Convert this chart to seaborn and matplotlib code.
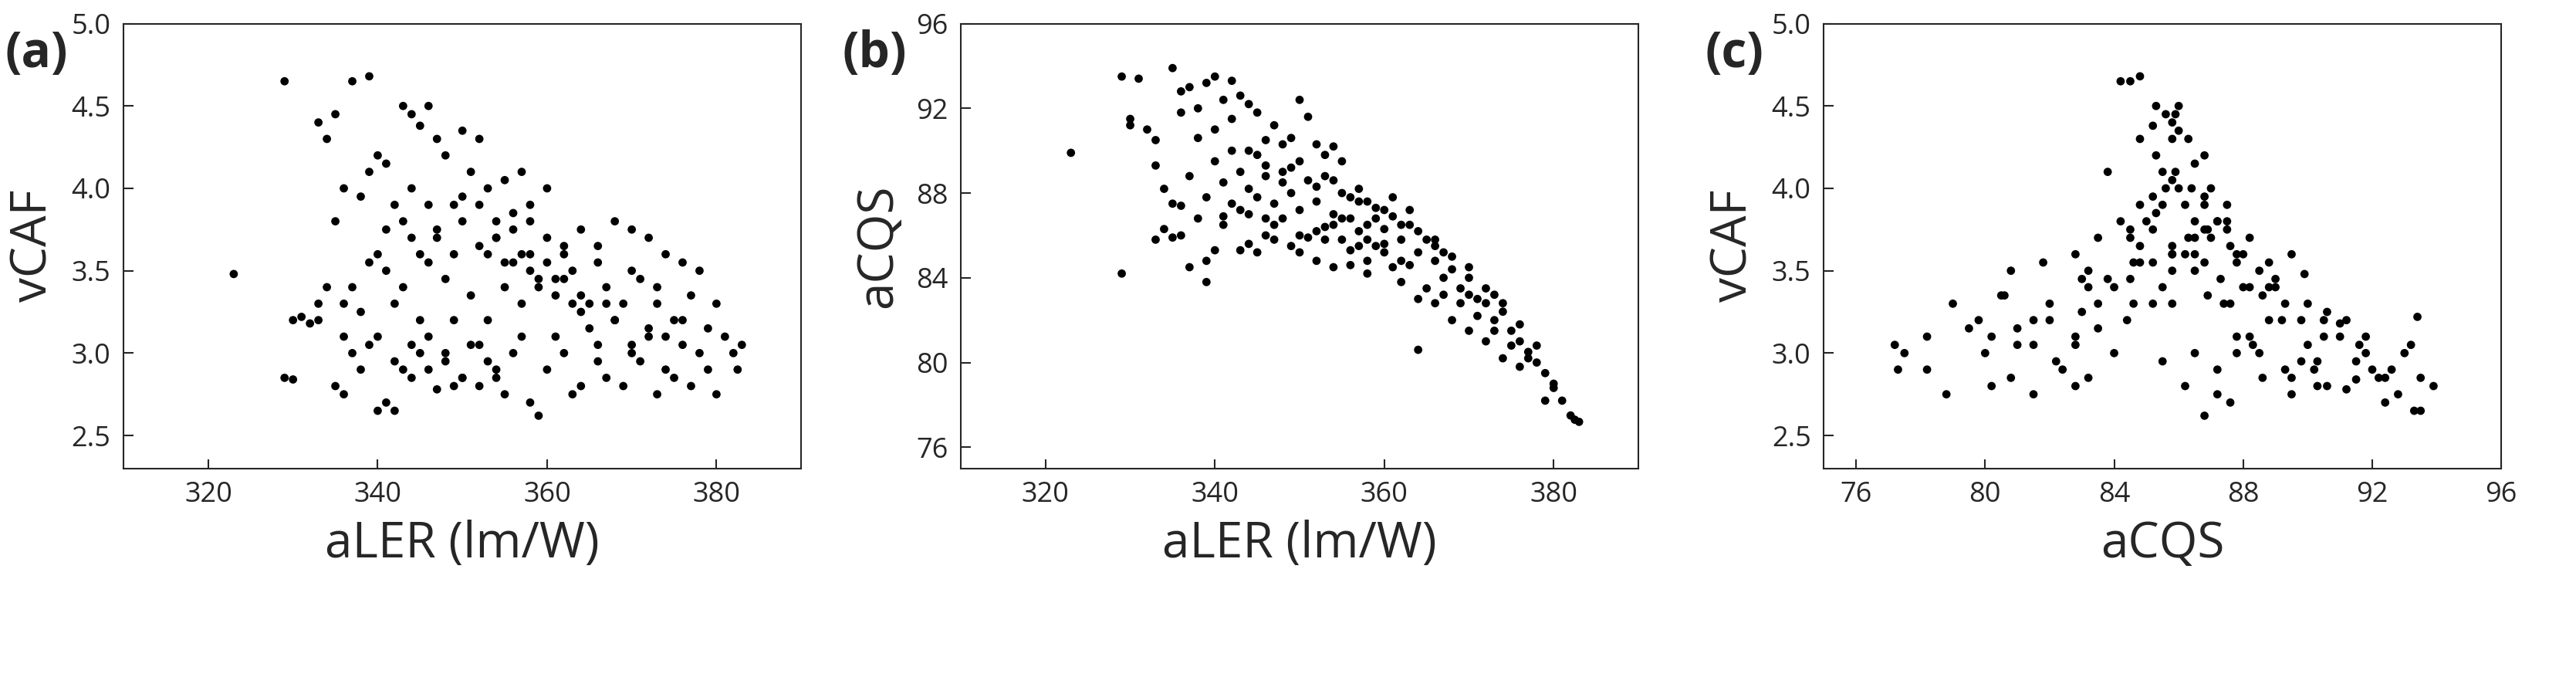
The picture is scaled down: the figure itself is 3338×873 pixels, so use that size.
import pandas as pd
import matplotlib.pyplot as plt
import seaborn as sns

# Per-sample values (same samples in every panel)
aler = [329, 330, 331, 332, 333, 330, 335, 336, 337, 338, 339, 340, 341, 342, 343, 336, 338, 340, 342, 344,
        345, 346, 347, 348, 350, 351, 352, 354, 355, 349, 333, 334, 336,
        323, 329, 333, 334, 335, 337, 339, 340, 341, 343, 344, 345, 346, 347, 344, 342, 338, 336, 335, 339,
        348, 350, 351, 353, 355, 352, 357, 360, 358, 349,
        340, 341, 342, 343, 344, 345, 346, 347, 348, 349, 350, 351, 352, 353, 354, 355, 356, 357, 358, 359,
        360, 361, 362, 363, 364, 365, 352, 354, 356, 358, 360, 362, 355, 357, 359, 361, 363, 353, 347, 345,
        343, 341, 339, 337, 346, 350, 354, 358, 362, 356,
        344, 346, 348, 350, 352, 354, 356, 358, 359, 360, 362, 364, 366, 357, 353, 349, 361, 363,
        366, 367, 368, 369, 370, 371, 372, 373, 374, 375, 376, 377, 378, 379, 380, 381, 382, 383, 382.5, 380,
        378, 376, 374, 372, 370, 368, 366, 367, 369, 371, 373, 375, 377, 379, 365, 364, 366, 368, 370, 372,
        374, 376, 364, 370, 373, 367]
acqs = [93.5, 91.2, 93.4, 91.0, 90.5, 91.5, 93.9, 92.8, 93.0, 92.0, 93.2, 93.5, 92.4, 93.3, 92.6, 91.8, 90.6, 91.0, 91.5, 92.2,
        91.8, 90.5, 91.2, 90.3, 92.4, 91.6, 90.3, 90.2, 89.5, 89.2, 89.3, 88.2, 87.4,
        89.9, 84.2, 85.8, 86.3, 85.9, 84.5, 84.8, 85.3, 86.5, 85.3, 85.6, 85.2, 86.0, 85.8, 87.0, 87.5, 86.8, 86.0, 87.5, 83.8,
        86.8, 86.0, 85.9, 86.4, 85.8, 84.8, 85.5, 85.6, 84.8, 85.5,
        89.5, 88.5, 90.0, 89.0, 88.2, 89.8, 88.8, 87.5, 89.0, 88.0, 87.2, 88.6, 87.6, 88.8, 87.0, 88.0, 86.8, 87.6, 86.5, 87.3,
        86.3, 86.9, 85.8, 86.5, 85.2, 85.8, 86.2, 86.5, 85.3, 85.8, 85.2, 84.8, 86.8, 86.2, 85.5, 84.5, 84.6, 85.8, 86.5, 87.8,
        87.2, 86.9, 87.8, 88.8, 86.8, 85.2, 84.5, 84.2, 83.8, 84.6,
        90.0, 89.3, 88.5, 89.5, 88.3, 88.6, 87.8, 87.6, 86.8, 87.2, 86.5, 86.2, 85.5, 88.2, 89.8, 90.6, 87.8, 87.2,
        84.8, 84.0, 84.4, 83.5, 84.0, 83.0, 82.8, 82.0, 82.4, 81.5, 81.0, 80.5, 80.0, 79.5, 78.8, 78.2, 77.5, 77.2, 77.3, 79.0,
        80.8, 81.8, 82.8, 83.5, 84.5, 85.0, 85.8, 83.2, 82.8, 82.2, 81.5, 80.8, 80.2, 78.2, 83.5, 83.0, 82.8, 82.0, 81.5, 81.0,
        80.2, 79.8, 80.6, 83.2, 83.2, 85.2]
vcaf = [2.85, 3.2, 3.22, 3.18, 3.2, 2.84, 2.8, 2.75, 3.0, 2.9, 3.05, 2.65, 2.7, 2.65, 2.9, 3.1, 3.25, 3.1, 2.95, 2.85,
        3.0, 3.1, 2.78, 2.95, 2.85, 3.05, 2.8, 2.9, 2.75, 3.2, 3.3, 3.4, 3.3,
        3.48, 4.65, 4.4, 4.3, 4.45, 4.65, 4.68, 4.2, 4.15, 4.5, 4.45, 4.38, 4.5, 4.3, 4.0, 3.9, 3.95, 4.0, 3.8, 4.1,
        4.2, 4.35, 4.1, 4.0, 4.05, 4.3, 4.1, 4.0, 3.9, 3.9,
        3.6, 3.5, 3.3, 3.4, 3.7, 3.2, 3.55, 3.75, 3.45, 3.6, 3.8, 3.35, 3.65, 3.2, 3.7, 3.4, 3.75, 3.3, 3.6, 3.45,
        3.7, 3.35, 3.6, 3.5, 3.75, 3.3, 3.9, 3.8, 3.85, 3.5, 3.55, 3.65, 3.55, 3.6, 3.4, 3.45, 3.3, 3.6, 3.7, 3.6,
        3.8, 3.75, 3.55, 3.4, 3.9, 3.95, 3.7, 3.8, 3.45, 3.55,
        3.05, 2.9, 3.0, 2.85, 3.05, 2.85, 3.0, 2.7, 2.62, 2.9, 3.0, 2.8, 2.95, 3.1, 2.95, 2.8, 3.1, 2.75,
        3.55, 3.4, 3.2, 3.3, 3.0, 3.45, 3.1, 3.3, 2.9, 3.2, 3.05, 3.35, 3.0, 3.15, 2.75, 3.1, 3.0, 3.05, 2.9, 3.3,
        3.5, 3.55, 3.6, 3.7, 3.75, 3.8, 3.65, 2.85, 2.8, 2.95, 2.75, 2.85, 2.8, 2.9, 3.15, 3.25, 3.05, 3.2, 3.05, 3.15,
        3.1, 3.2, 3.35, 3.5, 3.4, 3.3]

df = pd.DataFrame({'aLER': aler, 'aCQS': acqs, 'vCAF': vcaf})

sns.set_style('ticks')
plt.rcParams['font.family'] = ['Open Sans', 'DejaVu Sans']

fig = plt.figure(figsize=(33.38, 8.73), dpi=100)
lefts = [0.048, 0.373, 0.708]
panels = [('aLER', 'vCAF', 'aLER (lm/W)', (310, 390), [320, 340, 360, 380], (2.3, 5.0), [2.5, 3.0, 3.5, 4.0, 4.5, 5.0], '{:.1f}'),
          ('aLER', 'aCQS', 'aLER (lm/W)', (310, 390), [320, 340, 360, 380], (75, 96), [76, 80, 84, 88, 92, 96], '{:g}'),
          ('aCQS', 'vCAF', 'aCQS', (75, 96), [76, 80, 84, 88, 92, 96], (2.3, 5.0), [2.5, 3.0, 3.5, 4.0, 4.5, 5.0], '{:.1f}')]
tags = ['(a)', '(b)', '(c)']

for left, tag, (xc, yc, xlab, xlim, xt, ylim, yt, yfmt) in zip(lefts, tags, panels):
    ax = fig.add_axes([left, 0.305, 0.263, 0.66])
    sns.scatterplot(data=df, x=xc, y=yc, ax=ax, color='black', s=60, edgecolor='none')
    ax.set_xlim(xlim)
    ax.set_ylim(ylim)
    ax.set_xticks(xt)
    ax.set_yticks(yt)
    ax.set_yticklabels([yfmt.format(v) for v in yt])
    ax.tick_params(direction='in', length=9, width=1.5, labelsize=26, pad=12)
    for sp in ax.spines.values():
        sp.set_linewidth(1.5)
    ax.set_xlabel(xlab, fontsize=46, labelpad=10)
    ax.set_ylabel(yc, fontsize=46, labelpad=12)
    fig.text(left - 0.046, 0.9, tag, fontsize=46, fontweight='bold')

plt.savefig('out.png', dpi=100)
